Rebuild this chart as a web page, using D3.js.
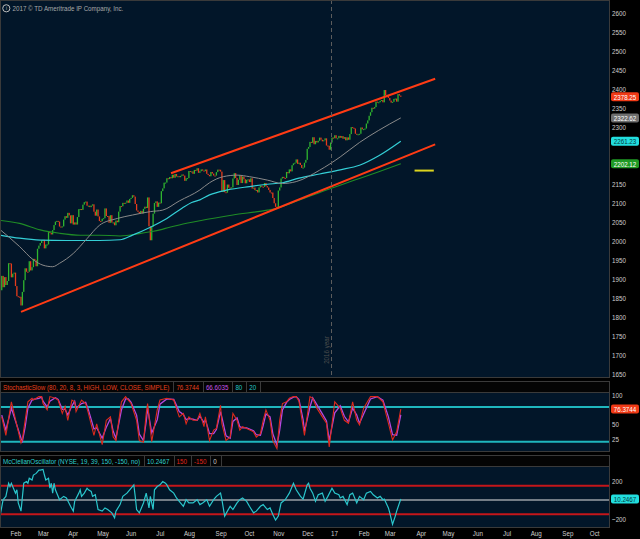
<!DOCTYPE html>
<html>
<head>
<meta charset="utf-8">
<script src="https://cdn.jsdelivr.net/npm/d3@7"></script>
<style>
  html, body { margin: 0; padding: 0; background: #000; }
  svg { display: block; }
</style>
</head>
<body>
<div id="chart"></div>
<script>
// ---------- data ----------
var firstDay = "2016-01-19";
var lastAxisDay = "2017-10-31";
var holidays = ["2016-02-15", "2016-03-25", "2016-05-30", "2016-07-04", "2016-09-05", "2016-11-24",
  "2016-12-26", "2017-01-02", "2017-01-16", "2017-02-20", "2017-04-14", "2017-05-29",
  "2017-07-04", "2017-09-04"];

// daily closes, one per trading day from firstDay
var closes = [
  1881.33, 1859.33, 1868.99, 1906.90, 1877.08, 1903.63, 1882.95, 1893.36, 1940.24,
  1939.38, 1903.03, 1912.53, 1915.45, 1880.05, 1853.44, 1852.21, 1851.86, 1829.08, 1864.78,
  1895.58, 1926.82, 1917.83, 1917.78, 1945.50, 1921.27, 1929.80, 1951.70, 1948.05, 1932.23,
  1978.35, 1986.45, 1993.40, 1999.99, 2001.76, 1979.26, 1989.26, 1989.57, 2022.19, 2019.64,
  2015.93, 2027.22, 2040.59, 2049.58, 2051.60, 2049.80, 2036.71, 2035.94, 2037.05, 2055.01,
  2063.95, 2059.74,
  2072.78, 2066.13, 2045.17, 2066.66, 2041.91, 2047.60, 2041.99, 2061.72, 2082.42, 2082.78,
  2080.73, 2094.34, 2100.80, 2102.40, 2091.48, 2091.58, 2087.79, 2091.70, 2095.15, 2075.81,
  2065.30,
  2081.43, 2063.37, 2051.12, 2050.63, 2057.14, 2058.69, 2084.39, 2064.46, 2064.11, 2046.61,
  2066.66, 2047.21, 2047.63, 2040.04, 2052.32, 2048.04, 2076.06, 2090.54, 2090.10, 2099.06,
  2096.95,
  2099.33, 2105.26, 2099.13, 2109.41, 2112.13, 2119.12, 2115.48, 2096.07, 2079.06, 2075.32,
  2071.50, 2077.99, 2071.22, 2083.25, 2088.90, 2085.45, 2113.32, 2037.41, 2000.54, 2036.09,
  2070.77, 2098.86,
  2102.95, 2088.55, 2099.73, 2097.90, 2129.90, 2137.16, 2152.14, 2152.43, 2163.75, 2161.74,
  2166.89, 2163.78, 2173.02, 2165.17, 2175.03, 2168.48, 2169.18, 2166.58, 2170.06, 2173.60,
  2170.84, 2157.03, 2163.79, 2164.25, 2182.87, 2180.89, 2181.74, 2175.49, 2185.79, 2184.05,
  2190.15, 2178.15, 2182.22, 2187.02, 2183.87, 2182.64, 2186.90, 2175.44, 2172.47, 2169.04,
  2180.38, 2176.12, 2170.95,
  2170.86, 2179.98, 2186.48, 2186.16, 2181.30, 2127.81, 2159.04, 2127.02, 2125.77, 2147.26,
  2139.16, 2139.12, 2139.76, 2163.12, 2177.18, 2164.69, 2146.10, 2159.93, 2171.37, 2151.13,
  2168.27,
  2161.20, 2150.49, 2159.73, 2160.77, 2153.74, 2163.66, 2136.73, 2139.18, 2132.55, 2132.98,
  2126.50, 2139.60, 2144.29, 2141.34, 2141.16, 2151.33, 2143.16, 2139.43, 2133.04, 2126.41,
  2126.15,
  2111.72, 2097.94, 2088.66, 2085.18, 2131.52, 2139.56, 2163.26, 2167.48, 2164.45, 2164.20,
  2180.39, 2176.94, 2187.12, 2181.90, 2198.18, 2202.94, 2204.72, 2213.35, 2201.72, 2204.66,
  2198.81,
  2191.08, 2191.95, 2204.71, 2212.23, 2241.35, 2246.19, 2259.53, 2256.96, 2271.72, 2253.28,
  2262.03, 2258.07, 2262.53, 2270.76, 2265.18, 2260.96, 2263.79, 2268.88, 2249.92, 2249.26,
  2238.83,
  2257.83, 2270.75, 2269.00, 2276.98, 2268.90, 2268.90, 2275.32, 2270.44, 2274.64, 2267.89,
  2271.89, 2263.69, 2271.31, 2265.20, 2280.07, 2298.37, 2296.68, 2294.69, 2280.90, 2278.87,
  2279.55, 2280.85, 2297.42, 2292.56, 2293.08, 2294.67, 2307.87, 2316.10, 2328.25, 2337.58,
  2349.25, 2347.22, 2351.16, 2365.38, 2362.82, 2363.81, 2367.34, 2369.75, 2363.64,
  2395.96, 2381.92, 2383.12, 2375.31, 2368.39, 2362.98, 2364.87, 2372.60, 2373.47, 2365.45,
  2385.26, 2381.38, 2378.25
];

// moving averages: [date, value]
var sma50 = [["2016-01-21", 2028], ["2016-02-10", 1984], ["2016-02-25", 1949], ["2016-03-07", 1935],
  ["2016-03-16", 1931], ["2016-03-23", 1940], ["2016-04-07", 1966], ["2016-04-21", 2005],
  ["2016-05-04", 2040], ["2016-05-23", 2058], ["2016-06-08", 2067], ["2016-06-27", 2076],
  ["2016-07-11", 2080], ["2016-07-27", 2104], ["2016-08-17", 2133], ["2016-08-26", 2152],
  ["2016-09-12", 2168], ["2016-09-26", 2172], ["2016-10-07", 2168], ["2016-10-26", 2159],
  ["2016-11-10", 2150], ["2016-11-25", 2155], ["2016-12-20", 2185], ["2017-01-12", 2220],
  ["2017-02-02", 2258], ["2017-02-23", 2290], ["2017-03-17", 2322.62]];
var sma100 = [["2016-01-21", 2014], ["2016-02-10", 2006], ["2016-03-03", 2001], ["2016-03-31", 2000],
  ["2016-05-04", 2000], ["2016-05-25", 2002], ["2016-06-08", 2014], ["2016-06-27", 2035],
  ["2016-07-14", 2058], ["2016-07-29", 2085], ["2016-08-09", 2100], ["2016-08-17", 2107],
  ["2016-08-26", 2120], ["2016-09-15", 2133], ["2016-10-07", 2142], ["2016-10-26", 2148],
  ["2016-11-10", 2152], ["2016-11-29", 2164], ["2016-12-20", 2175], ["2017-01-12", 2186],
  ["2017-02-02", 2198], ["2017-02-23", 2223], ["2017-03-17", 2261.23]];
var sma200 = [["2016-01-21", 2053], ["2016-02-10", 2045], ["2016-03-03", 2028], ["2016-03-23", 2019],
  ["2016-04-14", 2014], ["2016-05-04", 2014], ["2016-05-25", 2012], ["2016-06-15", 2018],
  ["2016-06-27", 2023], ["2016-07-07", 2028], ["2016-07-18", 2035], ["2016-07-27", 2041],
  ["2016-08-17", 2052], ["2016-09-21", 2067], ["2016-10-26", 2080], ["2016-11-04", 2085],
  ["2016-11-29", 2106], ["2017-01-03", 2137], ["2017-02-02", 2163], ["2017-02-23", 2181],
  ["2017-03-17", 2202.12]];

// drawings on the price panel
var upperChannel = [["2016-07-19", 2177], ["2017-04-24", 2425.5]];
var lowerChannel = [["2016-02-11", 1812], ["2017-04-24", 2253]];
var yellowLevel = [["2017-03-31", 2184], ["2017-04-21", 2184]];
var yearMark = "2017-01-03";

// StochasticSlow: [date, K, D]
var stoch = [["2016-01-22", 63, 66], ["2016-01-27", 31, 40], ["2016-02-02", 89, 78], ["2016-02-11", 18, 26],
  ["2016-02-12", 24, 21], ["2016-02-17", 57, 45], ["2016-02-19", 89, 78], ["2016-02-24", 95, 92],
  ["2016-02-25", 92, 93], ["2016-03-02", 98, 95], ["2016-03-04", 98, 97], ["2016-03-07", 86, 90],
  ["2016-03-10", 75, 80], ["2016-03-14", 98, 90], ["2016-03-18", 95, 96], ["2016-03-22", 92, 93],
  ["2016-03-28", 69, 76], ["2016-03-30", 81, 76], ["2016-04-01", 57, 66], ["2016-04-06", 92, 82],
  ["2016-04-08", 89, 90], ["2016-04-11", 72, 78], ["2016-04-15", 92, 86], ["2016-04-20", 86, 88],
  ["2016-04-22", 69, 75], ["2016-04-28", 31, 42], ["2016-05-02", 51, 44], ["2016-05-06", 15, 26],
  ["2016-05-11", 57, 45], ["2016-05-16", 63, 60], ["2016-05-18", 28, 38], ["2016-05-20", 22, 26],
  ["2016-05-26", 89, 75], ["2016-06-01", 98, 94], ["2016-06-03", 92, 94], ["2016-06-07", 86, 88],
  ["2016-06-13", 57, 66], ["2016-06-15", 22, 33], ["2016-06-20", 19, 22], ["2016-06-22", 69, 55],
  ["2016-06-23", 86, 78], ["2016-06-28", 20, 35], ["2016-07-05", 75, 58], ["2016-07-07", 92, 85],
  ["2016-07-14", 95, 94], ["2016-07-21", 92, 93], ["2016-07-27", 63, 72], ["2016-08-01", 69, 67],
  ["2016-08-03", 51, 58], ["2016-08-05", 63, 60], ["2016-08-10", 57, 59], ["2016-08-15", 57, 57],
  ["2016-08-17", 69, 64], ["2016-08-22", 46, 53], ["2016-08-23", 63, 58], ["2016-08-26", 22, 34],
  ["2016-08-31", 40, 34], ["2016-09-02", 43, 41], ["2016-09-08", 83, 72], ["2016-09-09", 51, 62],
  ["2016-09-14", 22, 30], ["2016-09-19", 28, 26], ["2016-09-21", 69, 55], ["2016-09-26", 57, 61],
  ["2016-09-28", 40, 46], ["2016-09-30", 46, 44], ["2016-10-05", 43, 44], ["2016-10-12", 37, 39],
  ["2016-10-14", 28, 32], ["2016-10-19", 34, 31], ["2016-10-21", 57, 48], ["2016-10-25", 75, 68],
  ["2016-10-28", 57, 63], ["2016-11-01", 22, 34], ["2016-11-04", 8, 14], ["2016-11-08", 57, 40],
  ["2016-11-10", 86, 75], ["2016-11-15", 89, 88], ["2016-11-17", 95, 93], ["2016-11-22", 98, 97],
  ["2016-11-25", 98, 98], ["2016-11-29", 90, 93], ["2016-12-02", 46, 58], ["2016-12-05", 31, 38],
  ["2016-12-09", 98, 80], ["2016-12-13", 95, 96], ["2016-12-16", 78, 84], ["2016-12-22", 63, 68],
  ["2016-12-28", 52, 56], ["2016-12-30", 11, 22], ["2017-01-06", 89, 70], ["2017-01-12", 78, 82],
  ["2017-01-18", 57, 64], ["2017-01-23", 52, 54], ["2017-01-26", 89, 78], ["2017-01-31", 57, 66],
  ["2017-02-02", 49, 52], ["2017-02-07", 78, 68], ["2017-02-14", 98, 94], ["2017-02-22", 98, 98],
  ["2017-02-28", 89, 92], ["2017-03-06", 52, 63], ["2017-03-09", 23, 32], ["2017-03-14", 37, 31],
  ["2017-03-17", 76.3744, 66.6035]];
var stochLevels = [80, 20];

// McClellan oscillator: [date, value]
var mcclellan = [["2016-01-21", -152], ["2016-01-25", 3], ["2016-01-27", 38], ["2016-01-29", 176],
  ["2016-02-01", 141], ["2016-02-02", 176], ["2016-02-05", 72], ["2016-02-08", 107], ["2016-02-09", -31],
  ["2016-02-11", -117], ["2016-02-16", 176], ["2016-02-18", 193], ["2016-02-19", 176], ["2016-02-22", 228],
  ["2016-02-24", 210], ["2016-02-25", 262], ["2016-02-29", 279], ["2016-03-02", 314], ["2016-03-03", 314],
  ["2016-03-07", 321], ["2016-03-08", 262], ["2016-03-09", 210], ["2016-03-11", 228], ["2016-03-14", 124],
  ["2016-03-15", 176], ["2016-03-16", 72], ["2016-03-17", 176], ["2016-03-18", 107], ["2016-03-23", 3],
  ["2016-03-29", 38], ["2016-03-31", 21], ["2016-04-05", -66], ["2016-04-07", -117], ["2016-04-08", -14],
  ["2016-04-13", 72], ["2016-04-14", 107], ["2016-04-15", 38], ["2016-04-19", 72], ["2016-04-21", 124],
  ["2016-04-22", 107], ["2016-04-26", 90], ["2016-04-27", 38], ["2016-04-29", 55], ["2016-05-03", -100],
  ["2016-05-06", -117], ["2016-05-10", -83], ["2016-05-12", -100], ["2016-05-17", -135], ["2016-05-19", -186],
  ["2016-05-20", -117], ["2016-05-25", -48], ["2016-05-27", 38], ["2016-06-02", 72], ["2016-06-06", 107],
  ["2016-06-09", 159], ["2016-06-10", 38], ["2016-06-13", -100], ["2016-06-15", -135], ["2016-06-20", -31],
  ["2016-06-21", 21], ["2016-06-22", 72], ["2016-06-24", -83], ["2016-06-27", 38], ["2016-06-29", -100],
  ["2016-06-30", 107], ["2016-07-05", 141], ["2016-07-07", 159], ["2016-07-11", 193], ["2016-07-13", 176],
  ["2016-07-14", 159], ["2016-07-18", 107], ["2016-07-21", 72], ["2016-07-25", 21], ["2016-07-27", -14],
  ["2016-08-01", -66], ["2016-08-03", 3], ["2016-08-05", -31], ["2016-08-10", -31], ["2016-08-15", 3],
  ["2016-08-17", -48], ["2016-08-19", -31], ["2016-08-24", 3], ["2016-08-26", -66], ["2016-08-31", 3],
  ["2016-09-02", 38], ["2016-09-08", 72], ["2016-09-09", 3], ["2016-09-13", -169], ["2016-09-15", -117],
  ["2016-09-19", -66], ["2016-09-21", -100], ["2016-09-26", -31], ["2016-09-28", 3], ["2016-09-30", 21],
  ["2016-10-05", -14], ["2016-10-07", -66], ["2016-10-12", -135], ["2016-10-14", -117], ["2016-10-19", -66],
  ["2016-10-21", -48], ["2016-10-26", -100], ["2016-10-28", -83], ["2016-11-01", -152], ["2016-11-03", -210],
  ["2016-11-07", -169], ["2016-11-09", -31], ["2016-11-14", 3], ["2016-11-17", 72], ["2016-11-22", 176],
  ["2016-11-25", 107], ["2016-11-30", 40], ["2016-12-02", 10], ["2016-12-07", 159], ["2016-12-08", 176],
  ["2016-12-09", 124], ["2016-12-13", 72], ["2016-12-15", -14], ["2016-12-19", 55], ["2016-12-22", 72],
  ["2016-12-27", -14], ["2016-12-29", 38], ["2017-01-04", 124], ["2017-01-06", 72], ["2017-01-11", 55],
  ["2017-01-12", 21], ["2017-01-17", 38], ["2017-01-20", -48], ["2017-01-24", 55], ["2017-01-26", 72],
  ["2017-01-31", -31], ["2017-02-02", 38], ["2017-02-07", 3], ["2017-02-09", 72], ["2017-02-14", 90],
  ["2017-02-16", 55], ["2017-02-22", 21], ["2017-02-24", 38], ["2017-02-28", 3], ["2017-03-01", 10],
  ["2017-03-06", -83], ["2017-03-07", -135], ["2017-03-09", -255], ["2017-03-13", -169], ["2017-03-14", -117],
  ["2017-03-17", 10.2467]];
var mcLevels = [150, -150];

// axis ticks
var priceTicks = [1650, 1700, 1750, 1800, 1850, 1900, 1950, 2000, 2050, 2100, 2150, 2200,
  2250, 2300, 2350, 2400, 2450, 2500, 2550, 2600];
var stochTicks = [25, 50, 100];
var mcTicks = [-200, 200];
var monthStarts = ["2016-02", "2016-03", "2016-04", "2016-05", "2016-06", "2016-07", "2016-08",
  "2016-09", "2016-10", "2016-11", "2016-12", "2017-01", "2017-02", "2017-03", "2017-04",
  "2017-05", "2017-06", "2017-07", "2017-08", "2017-09", "2017-10"];
var monthLabels = ["Feb", "Mar", "Apr", "May", "Jun", "Jul", "Aug", "Sep", "Oct", "Nov", "Dec",
  "17", "Feb", "Mar", "Apr", "May", "Jun", "Jul", "Aug", "Sep", "Oct"];

// ---------- layout ----------
var W = 640, H = 539;
var PR = 609.5;                 // right edge of the plot panels
var BG = "#021629";
var FONT = "Liberation Sans";
var SX = 0.78;                  // narrow the font like the platform's UI font

var svg = d3.select("#chart").append("svg")
  .attr("width", W).attr("height", H)
  .style("background", "#000");

// trading calendar (weekdays without exchange holidays)
var parse = d3.utcParse("%Y-%m-%d"), fmt = d3.utcFormat("%Y-%m-%d");
var days = d3.utcDays(parse(firstDay), d3.utcDay.offset(parse(lastAxisDay), 1))
  .filter(function(d) { return d.getUTCDay() % 6 !== 0; })
  .map(fmt)
  .filter(function(s) { return holidays.indexOf(s) < 0; });
function idx(s) { return d3.bisectLeft(days, s); }

var x = d3.scaleLinear()
  .domain([idx("2016-02-01"), idx("2017-10-02")])
  .range([10, 589.3]);
function X(s) { return x(idx(s)); }

var yMain = d3.scaleLinear().domain([1650, 2600]).range([373.5, 12.5]);
var yStoch = d3.scaleLinear().domain([20, 80]).range([441.7, 407]);
var yMc = d3.scaleLinear().domain([-150, 150]).range([514.3, 485.7]);

function label(g, px, py, str, color, anchor, size) {
  return g.append("text")
    .attr("transform", "translate(" + px + "," + py + ") scale(" + SX + ",1)")
    .attr("text-anchor", anchor || "start")
    .attr("dy", "0.35em")
    .attr("font-family", FONT)
    .attr("font-size", size || 8)
    .attr("fill", color)
    .text(str);
}

function panel(y0, y1, id) {
  svg.append("rect")
    .attr("x", 0.5).attr("y", y0 + 0.5)
    .attr("width", PR - 0.5).attr("height", y1 - y0 - 1)
    .attr("fill", BG).attr("stroke", "#3a3a3a");
  svg.append("clipPath").attr("id", id)
    .append("rect").attr("x", 1).attr("y", y0 + 1).attr("width", PR - 1.5).attr("height", y1 - y0 - 2);
  return svg.append("g").attr("clip-path", "url(#" + id + ")");
}

function header(y0, items) {
  var g = svg.append("g");
  g.append("rect")
    .attr("x", 0.5).attr("y", y0 + 0.5)
    .attr("width", PR - 0.5).attr("height", 11)
    .attr("fill", "#040404").attr("stroke", "#3a3a3a");
  var cx = 0;
  items.forEach(function(it) {
    var t = label(g, cx + 3, y0 + 6.2, it[0], it[1]);
    cx = cx + 3 + t.node().getComputedTextLength() * SX + 4;
    g.append("line")
      .attr("x1", Math.round(cx) + 0.5).attr("x2", Math.round(cx) + 0.5)
      .attr("y1", y0).attr("y2", y0 + 12)
      .attr("stroke", "#3a3a3a");
  });
}

function badge(py, txt, bg, fg) {
  svg.append("rect")
    .attr("x", 611).attr("y", py - 4.5)
    .attr("width", 28).attr("height", 9).attr("rx", 2)
    .attr("fill", bg);
  label(svg, 625, py + 0.3, txt, fg, "middle");
}

// tick labels that would sit under a value badge are hidden, as on the platform
function rightAxis(scale, ticks, badgeValues) {
  var shown = ticks.filter(function(t) {
    return badgeValues.every(function(b) { return Math.abs(scale(t) - scale(b)) > 6.5; });
  });
  var g = svg.append("g")
    .attr("transform", "translate(612,0)")
    .call(d3.axisRight(scale).tickValues(shown).tickSize(0).tickPadding(0).tickFormat(d3.format("d")));
  g.select(".domain").remove();
  g.attr("font-family", FONT).attr("font-size", 8);
  g.selectAll("text").attr("fill", "#cfcfcf").attr("transform", "scale(" + SX + ",1)");
}

// ---------- price panel ----------
var gMain = panel(0, 378, "clipMain");

// candles: body from the previous close to the day's close
var candles = closes.slice(1).map(function(c, k) { return { i: k + 1, o: closes[k], c: c }; });
gMain.append("g").selectAll("rect")
  .data(candles)
  .join("rect")
  .attr("x", function(d) { return x(d.i) - 0.65; })
  .attr("width", 1.3)
  .attr("y", function(d) { return yMain(Math.max(d.o, d.c)); })
  .attr("height", function(d) { return Math.max(1, Math.abs(yMain(d.o) - yMain(d.c))); })
  .attr("fill", function(d) { return d.c >= d.o ? "#2fb52f" : "#e63c1c"; });

var maLine = d3.line()
  .x(function(d) { return X(d[0]); })
  .y(function(d) { return yMain(d[1]); })
  .curve(d3.curveMonotoneX);

gMain.append("path").datum(sma200).attr("d", maLine)
  .attr("fill", "none").attr("stroke", "#1f8c26").attr("stroke-width", 1.1);
gMain.append("path").datum(sma100).attr("d", maLine)
  .attr("fill", "none").attr("stroke", "#34cfd6").attr("stroke-width", 1.2);
gMain.append("path").datum(sma50).attr("d", maLine)
  .attr("fill", "none").attr("stroke", "#8a8a8a").attr("stroke-width", 1);

var straight = d3.line()
  .x(function(d) { return X(d[0]); })
  .y(function(d) { return yMain(d[1]); });

[upperChannel, lowerChannel].forEach(function(seg) {
  gMain.append("path").datum(seg).attr("d", straight)
    .attr("fill", "none").attr("stroke", "#ff3b14").attr("stroke-width", 2);
});
gMain.append("path").datum(yellowLevel).attr("d", straight)
  .attr("fill", "none").attr("stroke", "#dcd41e").attr("stroke-width", 2);

// year separator
gMain.append("line")
  .attr("x1", Math.round(X(yearMark)) + 0.5).attr("x2", Math.round(X(yearMark)) + 0.5)
  .attr("y1", 0).attr("y2", 378)
  .attr("stroke", "#5c5c5c").attr("stroke-dasharray", "4,3");
svg.append("text")
  .attr("transform", "translate(" + (X(yearMark) - 4) + ",350) rotate(-90) scale(" + SX + ",1)")
  .attr("text-anchor", "middle").attr("dy", "0.35em")
  .attr("font-family", FONT).attr("font-size", 8).attr("fill", "#4e4e4e")
  .text("2016 year");

// copyright line
svg.append("circle").attr("cx", 6.3).attr("cy", 8.3).attr("r", 3.6)
  .attr("fill", "none").attr("stroke", "#bdbdbd").attr("stroke-width", 1);
label(svg, 6.4, 8.3, "i", "#bdbdbd", "middle", 6);
label(svg, 12.5, 8.6, "2017 \u00a9 TD Ameritrade IP Company, Inc.", "#a8a8a8");

var lastClose = closes[closes.length - 1];
var lastMa = [sma50[sma50.length - 1][1], sma100[sma100.length - 1][1], sma200[sma200.length - 1][1]];
rightAxis(yMain, priceTicks, [lastClose].concat(lastMa));
badge(yMain(lastClose), d3.format(".2f")(lastClose), "#f03a16", "#fff");
badge(yMain(lastMa[0]), d3.format(".2f")(lastMa[0]), "#6f6f6f", "#fff");
badge(yMain(lastMa[1]), d3.format(".2f")(lastMa[1]), "#22dede", "#04393b");
badge(yMain(lastMa[2]), d3.format(".2f")(lastMa[2]), "#1f9a24", "#fff");

// ---------- stochastic panel ----------
var lastSt = stoch[stoch.length - 1];
header(381, [
  ["StochasticSlow (80, 20, 8, 3, HIGH, LOW, CLOSE, SIMPLE)", "#e8401c"],
  [d3.format(".4f")(lastSt[1]), "#e8401c"],
  [d3.format(".4f")(lastSt[2]), "#c455e6"],
  ["80", "#22c4c8"],
  ["20", "#22c4c8"]
]);
var gSt = panel(392, 452, "clipSt");
gSt.selectAll("line.lvl").data(stochLevels).join("line")
  .attr("x1", 0).attr("x2", PR)
  .attr("y1", function(d) { return yStoch(d); }).attr("y2", function(d) { return yStoch(d); })
  .attr("stroke", "#1fb6bd").attr("stroke-width", 2);
gSt.append("path").datum(stoch)
  .attr("d", d3.line().x(function(d) { return X(d[0]); }).y(function(d) { return yStoch(d[2]); }))
  .attr("fill", "none").attr("stroke", "#b548e0").attr("stroke-width", 1.3);
gSt.append("path").datum(stoch)
  .attr("d", d3.line().x(function(d) { return X(d[0]); }).y(function(d) { return yStoch(d[1]); }))
  .attr("fill", "none").attr("stroke", "#dc2a1c").attr("stroke-width", 1.1);
rightAxis(yStoch, stochTicks, [lastSt[1]]);
badge(yStoch(lastSt[1]), d3.format(".4f")(lastSt[1]), "#f03a16", "#fff");

// ---------- McClellan panel ----------
var lastMc = mcclellan[mcclellan.length - 1][1];
header(455, [
  ["McClellanOscillator (NYSE, 19, 39, 150, -150, no)", "#2ccfd2"],
  [d3.format(".4f")(lastMc), "#2ccfd2"],
  ["150", "#e0241c"],
  ["-150", "#e0241c"],
  ["0", "#d0d0d0"]
]);
var gMc = panel(466, 528, "clipMc");
gMc.selectAll("line.lvl").data(mcLevels).join("line")
  .attr("x1", 0).attr("x2", PR)
  .attr("y1", function(d) { return yMc(d); }).attr("y2", function(d) { return yMc(d); })
  .attr("stroke", "#c4161a").attr("stroke-width", 2);
gMc.append("line")
  .attr("x1", 0).attr("x2", PR).attr("y1", yMc(0)).attr("y2", yMc(0))
  .attr("stroke", "#e4e4e4").attr("stroke-width", 1.2);
gMc.append("path").datum(mcclellan)
  .attr("d", d3.line().x(function(d) { return X(d[0]); }).y(function(d) { return yMc(d[1]); }))
  .attr("fill", "none").attr("stroke", "#2bc6cc").attr("stroke-width", 1.2);
rightAxis(yMc, mcTicks, [lastMc]);
badge(yMc(lastMc), d3.format(".4f")(lastMc), "#22dede", "#04393b");

// ---------- time axis ----------
var gx = svg.append("g")
  .attr("transform", "translate(0,527)")
  .call(d3.axisBottom(x)
    .tickValues(monthStarts.map(function(m) { return idx(m + "-01"); }))
    .tickFormat(function(v, k) { return monthLabels[k]; })
    .tickSize(0).tickPadding(3));
gx.select(".domain").remove();
gx.attr("font-family", FONT).attr("font-size", 8).attr("text-anchor", "start");
gx.selectAll("text").attr("fill", "#cfcfcf").attr("transform", "scale(" + SX + ",1)");
</script>
</body>
</html>
